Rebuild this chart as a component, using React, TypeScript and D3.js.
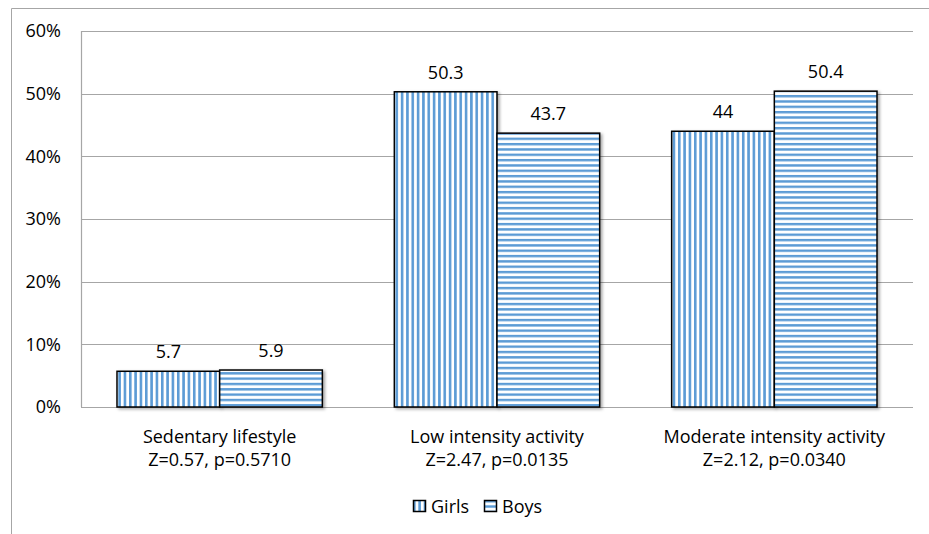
import * as React from 'react';
import * as d3 from 'd3';

const CATEGORIES = ['Sedentary lifestyle', 'Low intensity activity', 'Moderate intensity activity'];
const SUBTITLES = ['Z=0.57, p=0.5710', 'Z=2.47, p=0.0135', 'Z=2.12, p=0.0340'];
const SERIES = ['Girls', 'Boys'];
const GIRLS = [5.7, 50.3, 44];
const BOYS = [5.9, 43.7, 50.4];
const Y_TICKS = [0, 10, 20, 30, 40, 50, 60];

const WIDTH = 929;
const HEIGHT = 534;
const FONT = 'Open Sans, Liberation Sans, sans-serif';
const FONT_SIZE = 18;
const BLUE = '#5B9BD5';

export default function App() {
    const svgRef = React.useRef<SVGSVGElement>(null);

    React.useEffect(() => {
        const svg = d3.select(svgRef.current);
        svg.selectAll('*').remove();

        /** ******** Canvas ********* */
        const MARGIN = { top: 31, right: 16, bottom: 127, left: 81 };
        const innerWidth = WIDTH - MARGIN.left - MARGIN.right;
        const innerHeight = HEIGHT - MARGIN.top - MARGIN.bottom;

        const defs = svg.append('defs');
        const vert = defs
            .append('pattern')
            .attr('id', 'vstripe')
            .attr('patternUnits', 'userSpaceOnUse')
            .attr('width', 5.33)
            .attr('height', 10);
        vert.append('rect').attr('width', 5.33).attr('height', 10).attr('fill', '#fff');
        vert.append('rect').attr('width', 2.6).attr('height', 10).attr('fill', BLUE);
        const horz = defs
            .append('pattern')
            .attr('id', 'hstripe')
            .attr('patternUnits', 'userSpaceOnUse')
            .attr('width', 10)
            .attr('height', 5.33);
        horz.append('rect').attr('width', 10).attr('height', 5.33).attr('fill', '#fff');
        horz.append('rect').attr('width', 10).attr('height', 2.4).attr('fill', BLUE);
        const shadow = defs
            .append('filter')
            .attr('id', 'shadow')
            .attr('x', '-10%')
            .attr('y', '-10%')
            .attr('width', '130%')
            .attr('height', '130%');
        shadow
            .append('feDropShadow')
            .attr('dx', 2)
            .attr('dy', 1.5)
            .attr('stdDeviation', 1.5)
            .attr('flood-color', '#000')
            .attr('flood-opacity', 0.35);

        // outer chart border (right and bottom edges are cut off)
        svg.append('path')
            .attr('d', `M${WIDTH + 2},8.5 H11.5 V${HEIGHT + 2}`)
            .attr('fill', 'none')
            .attr('stroke', '#A6A6A6')
            .attr('stroke-width', 1);

        const g = svg.append('g').attr('transform', `translate(${MARGIN.left},${MARGIN.top})`);

        /** ******** Scales ********* */
        const xScale = d3.scaleBand().domain(CATEGORIES).range([0, innerWidth]).paddingInner(0).paddingOuter(0);
        const yScale = d3.scaleLinear().domain([0, 60]).range([innerHeight, 0]);
        const groupPad = 36;
        const xSub = d3
            .scaleBand()
            .domain(SERIES)
            .range([groupPad, xScale.bandwidth() - groupPad]);

        /** ******** Grid & Axis ********* */
        g.append('g')
            .selectAll('line')
            .data(Y_TICKS)
            .enter()
            .append('line')
            .attr('x1', 0)
            .attr('x2', innerWidth)
            .attr('y1', (d) => Math.round(yScale(d)) + 0.5)
            .attr('y2', (d) => Math.round(yScale(d)) + 0.5)
            .attr('stroke', '#A6A6A6')
            .attr('stroke-width', 1.2);
        g.append('line')
            .attr('x1', 0.5)
            .attr('x2', 0.5)
            .attr('y1', 0)
            .attr('y2', innerHeight)
            .attr('stroke', '#A6A6A6')
            .attr('stroke-width', 1.2);

        g.append('g')
            .selectAll('text')
            .data(Y_TICKS)
            .enter()
            .append('text')
            .attr('x', -20)
            .attr('y', (d) => yScale(d))
            .attr('dy', '0.36em')
            .attr('text-anchor', 'end')
            .attr('font-family', FONT)
            .attr('font-size', FONT_SIZE)
            .attr('fill', '#000')
            .text((d) => `${d}%`);

        /** ******** Bars ********* */
        const rows = CATEGORIES.map((c, i) => [
            { cat: c, series: 'Girls', value: GIRLS[i], fill: 'url(#vstripe)' },
            { cat: c, series: 'Boys', value: BOYS[i], fill: 'url(#hstripe)' }
        ]).flat();

        const bars = g.append('g');
        bars.selectAll('rect')
            .data(rows)
            .enter()
            .append('rect')
            .attr('x', (d) => xScale(d.cat)! + xSub(d.series)!)
            .attr('y', (d) => yScale(d.value))
            .attr('width', xSub.bandwidth())
            .attr('height', (d) => innerHeight - yScale(d.value))
            .attr('fill', (d) => d.fill)
            .attr('stroke', '#000')
            .attr('stroke-width', 1.5)
            .attr('filter', 'url(#shadow)');

        g.append('g')
            .selectAll('text')
            .data(rows)
            .enter()
            .append('text')
            .attr('x', (d) => xScale(d.cat)! + xSub(d.series)! + xSub.bandwidth() / 2)
            .attr('y', (d) => yScale(d.value) - 13)
            .attr('text-anchor', 'middle')
            .attr('font-family', FONT)
            .attr('font-size', FONT_SIZE)
            .attr('fill', '#000')
            .text((d) => String(d.value));

        /** ******** Category labels ********* */
        const cats = g.append('g');
        CATEGORIES.forEach((c, i) => {
            const cx = xScale(c)! + xScale.bandwidth() / 2;
            const t = cats
                .append('text')
                .attr('text-anchor', 'middle')
                .attr('font-family', FONT)
                .attr('font-size', FONT_SIZE)
                .attr('fill', '#000');
            t.append('tspan').attr('x', cx).attr('y', innerHeight + 36).text(c);
            t.append('tspan').attr('x', cx).attr('y', innerHeight + 59).text(SUBTITLES[i]);
        });

        /** ******** Legend ********* */
        const legend = svg.append('g').attr('transform', 'translate(413,500)');
        const LEGEND_X = [0, 71];
        SERIES.forEach((s, i) => {
            const lg = legend.append('g').attr('transform', `translate(${LEGEND_X[i]},0)`);
            lg.append('rect')
                .attr('x', 0.5)
                .attr('y', 0.5)
                .attr('width', 12)
                .attr('height', 11)
                .attr('fill', i === 0 ? 'url(#vstripe)' : 'url(#hstripe)')
                .attr('stroke', '#000')
                .attr('stroke-width', 1.5);
            lg.append('text')
                .attr('x', 18)
                .attr('y', 13)
                .attr('font-family', FONT)
                .attr('font-size', FONT_SIZE)
                .attr('fill', '#000')
                .text(s);
        });
    });

    return (
        <svg
            ref={svgRef}
            width={WIDTH}
            height={HEIGHT}
            style={{ position: 'absolute', left: 0, top: 0, background: '#fff' }}
        />
    );
}
